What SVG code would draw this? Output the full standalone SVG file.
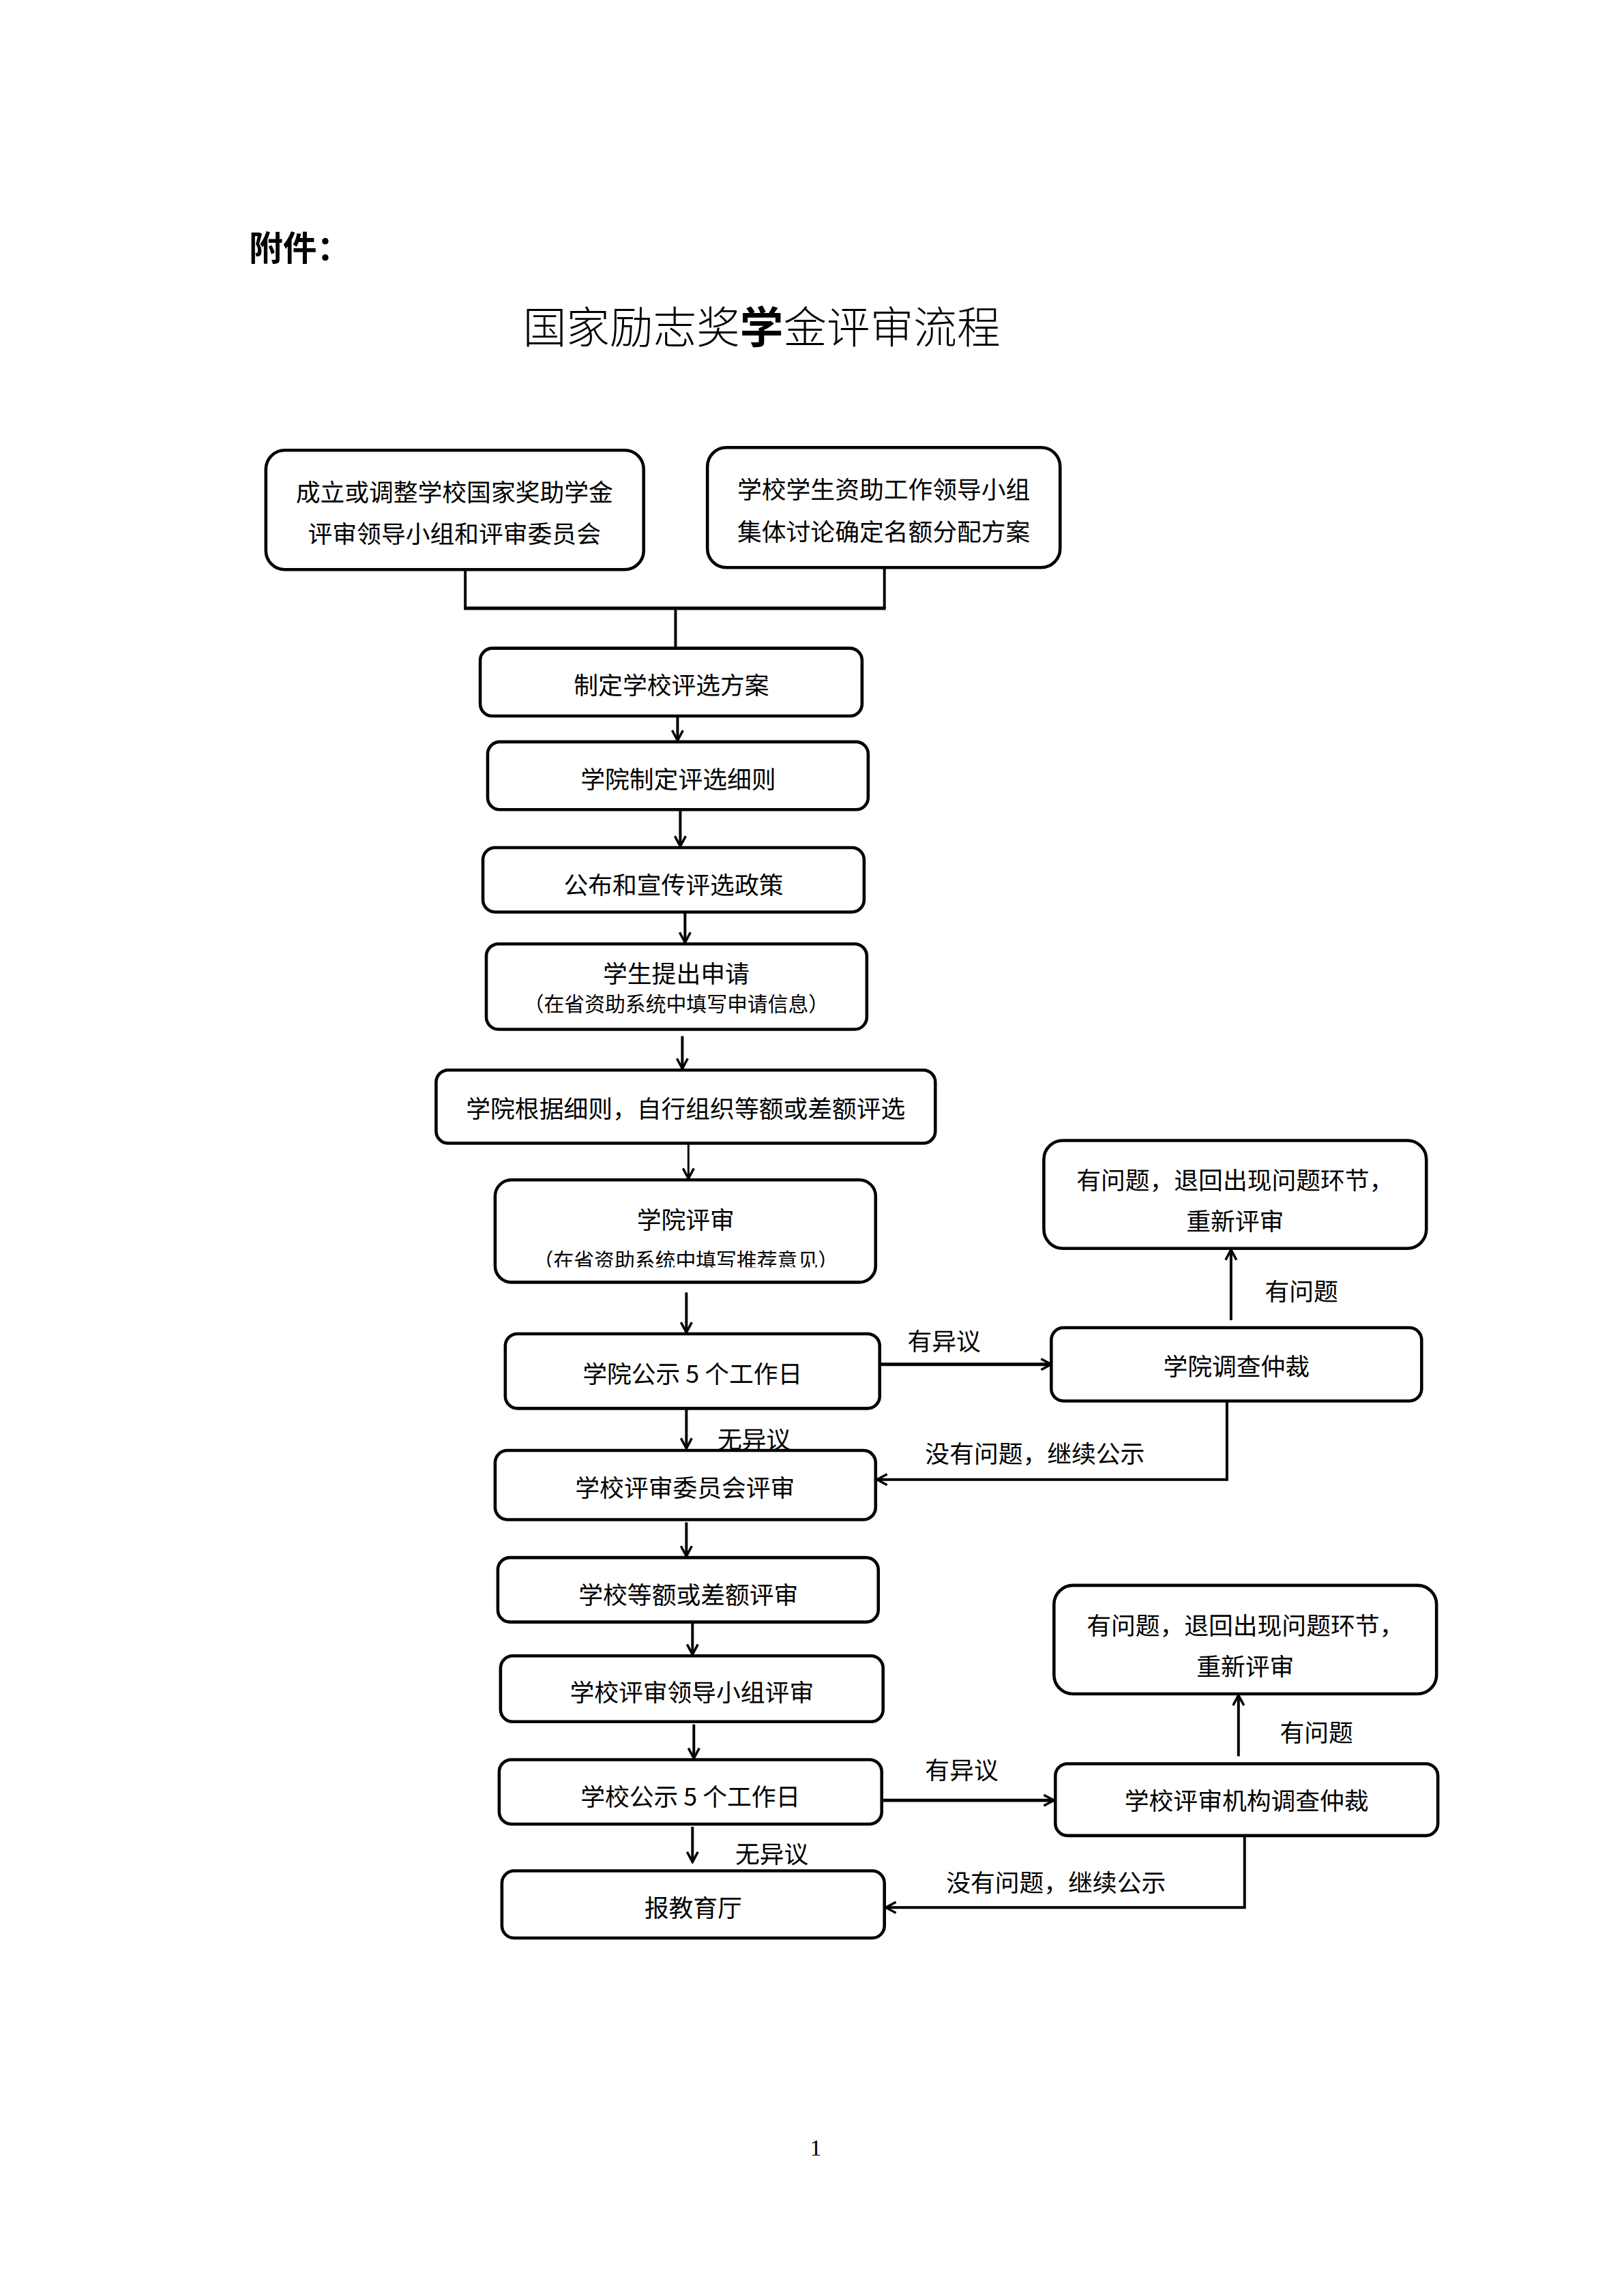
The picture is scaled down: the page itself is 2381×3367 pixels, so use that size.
<svg xmlns="http://www.w3.org/2000/svg" width="2381" height="3367" viewBox="0 0 2381 3367">
<style>
.bx{fill:#fff;stroke:#000;stroke-width:4.6}
.t{font-family:"Noto Sans CJK SC","Noto Sans CJK TC",sans-serif;font-size:36px;fill:#000;text-anchor:middle;dominant-baseline:central}
.s{font-size:30px}
.lb{font-family:"Noto Sans CJK SC",sans-serif;font-size:36px;fill:#000;dominant-baseline:central}
.ln{fill:none;stroke:#000;stroke-width:4}
.th{stroke-width:3}
.tk{stroke-width:5}
</style>
<defs>
<marker id="ah" viewBox="0 0 20 20" refX="18" refY="10" markerWidth="20" markerHeight="20" orient="auto" markerUnits="userSpaceOnUse">
<path d="M3,2 L18,10 L3,18" fill="none" stroke="#000" stroke-width="3.5"/>
</marker>
<clipPath id="hclip"><rect x="730" y="1740" width="561" height="129"/></clipPath>
</defs>
<rect width="2381" height="3367" fill="#fff"/>

<g transform="scale(0.9944)">
<g id="header">
<text x="367" y="384" font-family="'Noto Sans CJK SC',sans-serif" font-size="50" font-weight="bold">附件：</text>
<text x="771" y="506" font-family="'Noto Sans CJK SC',sans-serif" font-size="64" font-weight="300">国家励志奖<tspan font-weight="bold">学</tspan>金评审流程</text>
</g>

<g id="connectors">
<path class="ln" d="M686,820 V897"/>
<path class="ln" d="M1304,818 V897"/>
<path class="ln tk" d="M684,897 H1306"/>
<path class="ln" d="M996,897 V956"/>
<path class="ln" d="M999,1038 V1092" marker-end="url(#ah)"/>
<path class="ln" d="M1003,1180 V1248" marker-end="url(#ah)"/>
<path class="ln" d="M1010,1330 V1390" marker-end="url(#ah)"/>
<path class="ln" d="M1006,1528 V1576" marker-end="url(#ah)"/>
<path class="ln th" d="M1015,1675 V1738" marker-end="url(#ah)"/>
<path class="ln" d="M1012,1906 V1965" marker-end="url(#ah)"/>
<path class="ln" d="M1012,2077 V2136" marker-end="url(#ah)"/>
<path class="ln" d="M1012,2245 V2295" marker-end="url(#ah)"/>
<path class="ln" d="M1021,2392 V2440" marker-end="url(#ah)"/>
<path class="ln" d="M1023,2543 V2593" marker-end="url(#ah)"/>
<path class="ln" d="M1021,2694 V2746" marker-end="url(#ah)"/>
<path class="ln tk" d="M1297,2012 H1550" marker-end="url(#ah)"/>
<path class="ln" d="M1815,1947 V1843" marker-end="url(#ah)"/>
<path class="ln" d="M1809,2066 V2182 H1293" marker-end="url(#ah)"/>
<path class="ln tk" d="M1300,2655 H1554" marker-end="url(#ah)"/>
<path class="ln" d="M1826,2590 V2500" marker-end="url(#ah)"/>
<path class="ln" d="M1835,2707 V2813 H1306" marker-end="url(#ah)"/>
<text class="lb" x="1058" y="2120">无异议</text>
<text class="lb" x="1084" y="2731">无异议</text>
<text class="lb" x="1338" y="1975">有异议</text>
<text class="lb" x="1364" y="2608">有异议</text>
<text class="lb" x="1865" y="1902">有问题</text>
<text class="lb" x="1887" y="2552">有问题</text>
<text class="lb" x="1364" y="2141">没有问题，继续公示</text>
<text class="lb" x="1395" y="2774">没有问题，继续公示</text>
</g>

<g id="nA"><rect class="bx" x="392" y="664" width="557" height="176" rx="28"/>
<text class="t" x="670" y="723">成立或调整学校国家奖助学金</text>
<text class="t" x="670" y="784">评审领导小组和评审委员会</text></g>

<g id="nB"><rect class="bx" x="1043" y="660" width="520" height="177" rx="28"/>
<text class="t" x="1303" y="719">学校学生资助工作领导小组</text>
<text class="t" x="1303" y="781">集体讨论确定名额分配方案</text></g>

<g id="nC"><rect class="bx" x="708" y="956" width="563" height="100" rx="18"/>
<text class="t" x="990" y="1008">制定学校评选方案</text></g>

<g id="nD"><rect class="bx" x="719" y="1094" width="561" height="100" rx="18"/>
<text class="t" x="1000" y="1146">学院制定评选细则</text></g>

<g id="nE"><rect class="bx" x="712" y="1250" width="562" height="95" rx="18"/>
<text class="t" x="993" y="1302">公布和宣传评选政策</text></g>

<g id="nF"><rect class="bx" x="717" y="1392" width="561" height="126" rx="18"/>
<text class="t" x="997" y="1433">学生提出申请</text>
<text class="t s" x="997" y="1478">（在省资助系统中填写申请信息）</text></g>

<g id="nG"><rect class="bx" x="643" y="1578" width="736" height="108" rx="18"/>
<text class="t" x="1011" y="1632">学院根据细则，自行组织等额或差额评选</text></g>

<g id="nH"><rect class="bx" x="730" y="1740" width="561" height="151" rx="24"/>
<text class="t" x="1011" y="1796">学院评审</text>
<text class="t s" x="1011" y="1856" clip-path="url(#hclip)">（在省资助系统中填写推荐意见）</text></g>

<g id="nI"><rect class="bx" x="745" y="1967" width="552" height="110" rx="18"/>
<text class="t" x="1021" y="2023">学院公示 5 个工作日</text></g>

<g id="nJ"><rect class="bx" x="730" y="2139" width="561" height="102" rx="18"/>
<text class="t" x="1010" y="2191">学校评审委员会评审</text></g>

<g id="nK"><rect class="bx" x="734" y="2297" width="561" height="95" rx="18"/>
<text class="t" x="1015" y="2349">学校等额或差额评审</text></g>

<g id="nL"><rect class="bx" x="738" y="2442" width="564" height="97" rx="18"/>
<text class="t" x="1020" y="2493">学校评审领导小组评审</text></g>

<g id="nM"><rect class="bx" x="736" y="2595" width="564" height="95" rx="18"/>
<text class="t" x="1018" y="2647">学校公示 5 个工作日</text></g>

<g id="nN"><rect class="bx" x="740" y="2759" width="564" height="99" rx="18"/>
<text class="t" x="1022" y="2811">报教育厅</text></g>

<g id="nP1"><rect class="bx" x="1539" y="1682" width="564" height="159" rx="28"/>
<text class="t" x="1821" y="1738">有问题，退回出现问题环节，</text>
<text class="t" x="1821" y="1798">重新评审</text></g>

<g id="nQ1"><rect class="bx" x="1550" y="1958" width="546" height="108" rx="18"/>
<text class="t" x="1823" y="2012">学院调查仲裁</text></g>

<g id="nP2"><rect class="bx" x="1554" y="2338" width="564" height="160" rx="28"/>
<text class="t" x="1836" y="2394">有问题，退回出现问题环节，</text>
<text class="t" x="1836" y="2455">重新评审</text></g>

<g id="nQ2"><rect class="bx" x="1556" y="2601" width="564" height="106" rx="18"/>
<text class="t" x="1838" y="2653">学校评审机构调查仲裁</text></g>
</g>

<g id="footer">
<text x="1196" y="3161" font-family="'Liberation Serif',serif" font-size="34" text-anchor="middle">1</text>
</g>
</svg>
